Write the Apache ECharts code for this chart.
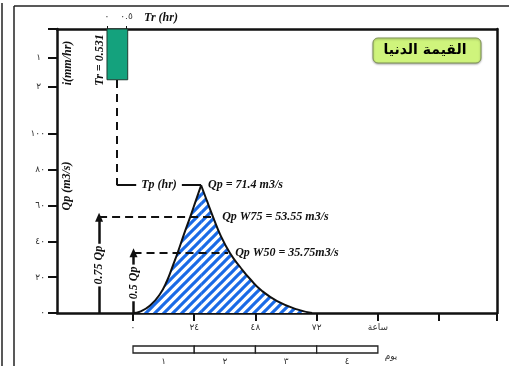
<!DOCTYPE html>
<html><head><meta charset="utf-8">
<script src="https://cdn.jsdelivr.net/npm/echarts@6/dist/echarts.min.js"></script>
<style>html,body{margin:0;padding:0;background:#fff}#c{width:509px;height:366px}</style>
</head><body><div id="c"></div>
<script>
// Hydrograph values (hours, m3/s): rising and falling limbs
const riseHours = [0, 2.75, 6.7, 10.6, 13.3, 15.7, 17.6, 20.0, 22.4, 24.7, 26.7];
const riseFlows = [0, 0.8, 4.2, 10.6, 17.9, 26.8, 34.1, 44.1, 53.6, 63.1, 71.4];
const fallHours = [26.7, 29.0, 31.4, 34.1, 38.0, 42.0, 45.9, 50.6, 56.5, 64.3, 70.2];
const fallFlows = [71.4, 62.6, 53.6, 44.1, 33.5, 25.7, 19.0, 12.3, 6.7, 2.0, 0];
// Rainfall block
const rainTr = 0.531;      // hr
const rainI = 1.75;        // mm/hr
// Key values
const Qp = 71.4, Tp = 26.7;
const QpW75 = 53.55, QpW50 = 35.75;
const w50LineQ = 33.6;     // level of the W50 dashed line as drawn
// Tick labels
const hourTicks = [0, 24, 48, 72];
const hourUnit = 'ساعة';
const qTicks = [0, 20, 40, 60, 80, 100];
const iTicks = [1, 2];
const trTicks = [0, 0.5];
const days = [1, 2, 3, 4];
const dayUnit = 'يوم';
const titleText = 'القيمة الدنيا';
// annotation anchor hours
const tpLineStartT = -6.3, rainBottomQ = 130.2;
const arrow75T = -13.3, arrow50T = 0.2;
const w75EndT = 32.2, w50EndT = 37.3;

const AR = '٠١٢٣٤٥٦٧٨٩';
const ar = v => String(v).replace(/\d/g, d => AR[+d]);

function stripes() {
  const s = 9, c = document.createElement('canvas');
  c.width = s; c.height = s;
  const g = c.getContext('2d');
  g.fillStyle = '#fff'; g.fillRect(0, 0, s, s);
  g.strokeStyle = '#1a6ae6'; g.lineWidth = 3.1;
  [0, s, 2 * s].forEach(k => { g.beginPath(); g.moveTo(-2, k + 2); g.lineTo(k + 2, -2); g.stroke(); });
  return c;
}
const pattern = stripes();

const serif = {fontFamily: 'Liberation Serif', fontStyle: 'italic', fontWeight: 'bold', fontSize: 12, color: '#111'};
const tickFont = {fontFamily: 'DejaVu Sans', fontSize: 9, color: '#333'};
const XMIN = -29.8, XMAX = 142.7, YMAX = 158.7;

const limb = (hs, qs) => ({
  type: 'line', xAxisIndex: 0, yAxisIndex: 0, z: 3,
  data: hs.map((h, i) => [h, qs[i]]),
  symbol: 'none', smooth: 0.5,
  lineStyle: {color: '#111', width: 2},
  areaStyle: {color: {image: pattern, repeat: 'repeat'}, opacity: 1}
});

const rising = limb(riseHours, riseFlows);
rising.markPoint = {silent: true, symbol: 'circle', symbolSize: 0,
  data: [{coord: [Tp, Qp], label: Object.assign({show: true, position: 'right', distance: 7,
    formatter: 'Qp = ' + Qp + ' m3/s'}, serif)}]};
rising.markLine = {silent: true, symbol: ['none', 'none'], precision: 2, z: 5,
  data: [
    [{coord: [tpLineStartT, rainBottomQ], lineStyle: {type: [8, 6], width: 2, color: '#111'}, label: {show: false}},
     {coord: [tpLineStartT, Qp]}],
    [{coord: [tpLineStartT, Qp], lineStyle: {type: 'solid', width: 2, color: '#111'},
      label: Object.assign({show: true, position: 'insideMiddle', formatter: 'Tp (hr)', backgroundColor: '#fff', padding: [0, 5]}, serif)},
     {coord: [Tp, Qp]}],
    [{coord: [arrow75T, QpW75], lineStyle: {type: [8, 5], width: 2, color: '#111'},
      label: Object.assign({show: true, position: 'end', distance: 7, formatter: 'Qp W75 = ' + QpW75 + ' m3/s'}, serif)},
     {coord: [w75EndT, QpW75]}],
    [{coord: [arrow50T, w50LineQ], lineStyle: {type: [8, 5], width: 2, color: '#111'},
      label: Object.assign({show: true, position: 'end', distance: 7, formatter: 'Qp W50 = ' + QpW50 + 'm3/s'}, serif)},
     {coord: [w50EndT, w50LineQ]}],
    [{coord: [arrow75T, 0], symbol: 'none', lineStyle: {type: 'solid', width: 2.5, color: '#111'},
      label: Object.assign({show: true, position: 'insideMiddle', formatter: '0.75 Qp', backgroundColor: '#fff', padding: [3, 2]}, serif)},
     {coord: [arrow75T, QpW75], symbol: 'triangle', symbolSize: [8, 9]}],
    [{coord: [arrow50T, 0], symbol: 'none', lineStyle: {type: 'solid', width: 2.5, color: '#111'},
      label: Object.assign({show: true, position: 'insideMiddle', formatter: '0.5 Qp', backgroundColor: '#fff', padding: [3, 2]}, serif)},
     {coord: [arrow50T, w50LineQ], symbol: 'triangle', symbolSize: [8, 9]}]
  ]};

const chart = echarts.init(document.getElementById('c'), null, {renderer: 'canvas'});
chart.setOption({
  animation: false,
  backgroundColor: '#fff',
  grid: [
    {left: 57, right: 12, top: 29, bottom: 53},
    {left: 57, right: 12, top: 29, height: 58},
    {left: 57, right: 12, top: 346, height: 8}
  ],
  xAxis: [
    {gridIndex: 0, type: 'value', min: XMIN, max: XMAX,
      axisLine: {show: true, onZero: false, lineStyle: {color: '#111', width: 2.5}},
      splitLine: {show: false},
      axisTick: {show: true, customValues: [0, 24, 48, 72, 96, 120, XMAX], length: 8, lineStyle: {color: '#111', width: 2}},
      axisLabel: Object.assign({customValues: hourTicks.concat([96]), margin: 10,
        formatter: v => v === 96 ? hourUnit : ar(v)}, tickFont)},
    {gridIndex: 1, type: 'value', position: 'top', min: -1.282, max: 10,
      axisLine: {show: true, onZero: false, lineStyle: {color: '#111', width: 2.5}},
      splitLine: {show: false},
      axisTick: {show: true, customValues: trTicks, length: 3, lineStyle: {color: '#111', width: 1}},
      axisLabel: Object.assign({customValues: trTicks, margin: 8, formatter: v => ar(v)}, tickFont)},
    {gridIndex: 2, type: 'value', min: XMIN, max: XMAX,
      axisLine: {show: false}, axisTick: {show: false}, splitLine: {show: false},
      axisLabel: Object.assign({customValues: days.map(d => d * 24 - 12), margin: 4,
        formatter: v => ar((v + 12) / 24)}, tickFont)}
  ],
  yAxis: [
    {gridIndex: 0, type: 'value', min: 0, max: YMAX,
      axisLine: {show: true, onZero: false, lineStyle: {color: '#111', width: 2.5}},
      splitLine: {show: false},
      axisTick: {show: true, customValues: qTicks, length: 9, lineStyle: {color: '#111', width: 2}},
      axisLabel: Object.assign({customValues: qTicks, margin: 12, formatter: v => ar(v)}, tickFont)},
    {gridIndex: 1, type: 'value', inverse: true, min: 0, max: 2,
      axisLine: {show: false, onZero: false}, splitLine: {show: false},
      axisTick: {show: true, customValues: [0].concat(iTicks), length: 9, lineStyle: {color: '#111', width: 2}},
      axisLabel: Object.assign({customValues: iTicks, margin: 16, formatter: v => ar(v)}, tickFont)},
    {gridIndex: 2, type: 'value', min: 0, max: 1, show: false},
    {gridIndex: 0, type: 'value', position: 'right', min: 0, max: YMAX,
      axisLine: {show: true, onZero: false, lineStyle: {color: '#111', width: 2.5}},
      axisTick: {show: false}, axisLabel: {show: false}, splitLine: {show: false}}
  ],
  series: [
    rising,
    limb(fallHours, fallFlows),
    {type: 'custom', xAxisIndex: 1, yAxisIndex: 1, z: 4,
      data: [[0, rainTr, rainI]],
      renderItem: (p, api) => {
        const a = api.coord([api.value(0), 0]), b = api.coord([api.value(1), api.value(2)]);
        return {type: 'rect', shape: {x: a[0], y: a[1], width: b[0] - a[0], height: b[1] - a[1]},
          style: {fill: '#14a27d', stroke: '#1d3b30', lineWidth: 1}};
      }},
    {type: 'custom', xAxisIndex: 2, yAxisIndex: 2,
      data: days.map(d => [(d - 1) * 24, d * 24]),
      renderItem: (p, api) => {
        const a = api.coord([api.value(0), 1]), b = api.coord([api.value(1), 0]);
        return {type: 'rect', shape: {x: a[0], y: a[1], width: b[0] - a[0], height: b[1] - a[1]},
          style: {fill: '#fff', stroke: '#222', lineWidth: 1.3}};
      }}
  ],
  graphic: [
    {type: 'line', shape: {x1: 2, y1: 3, x2: 2, y2: 366}, style: {stroke: '#222', lineWidth: 1.5}},
    {type: 'line', shape: {x1: 14, y1: 6, x2: 14, y2: 366}, style: {stroke: '#222', lineWidth: 1.5}},
    {type: 'line', shape: {x1: 14, y1: 6, x2: 509, y2: 6}, style: {stroke: '#222', lineWidth: 1.5}},
    {type: 'rect', shape: {x: 373, y: 38, width: 108, height: 25, r: 5},
      style: {fill: '#cff47c', stroke: '#7f9256', lineWidth: 1, shadowBlur: 2, shadowColor: 'rgba(0,0,0,0.3)', shadowOffsetY: 1}},
    {type: 'text', x: 425, y: 50, style: {text: titleText, fontFamily: 'DejaVu Sans', fontWeight: 'bold', fontSize: 14,
      fill: '#000', align: 'center', verticalAlign: 'middle'}},
    {type: 'text', x: 161, y: 18, style: {text: 'Tr (hr)', fontFamily: 'Liberation Serif', fontStyle: 'italic', fontWeight: 'bold',
      fontSize: 12, fill: '#111', align: 'center', verticalAlign: 'middle'}},
    {type: 'text', x: 68, y: 63, rotation: Math.PI / 2, style: {text: 'i(mm/hr)', fontFamily: 'Liberation Serif', fontStyle: 'italic',
      fontWeight: 'bold', fontSize: 12, fill: '#111', align: 'center', verticalAlign: 'middle'}},
    {type: 'text', x: 100, y: 60, rotation: Math.PI / 2, style: {text: 'Tr = ' + rainTr, fontFamily: 'Liberation Serif', fontStyle: 'italic',
      fontWeight: 'bold', fontSize: 12, fill: '#111', align: 'center', verticalAlign: 'middle'}},
    {type: 'text', x: 67, y: 186, rotation: Math.PI / 2, style: {text: 'Qp (m3/s)', fontFamily: 'Liberation Serif', fontStyle: 'italic',
      fontWeight: 'bold', fontSize: 12, fill: '#111', align: 'center', verticalAlign: 'middle'}},
    {type: 'text', x: 391, y: 357, style: {text: dayUnit, fontFamily: 'DejaVu Sans', fontSize: 9, fill: '#333',
      align: 'center', verticalAlign: 'middle'}}
  ]
});
</script></body></html>
